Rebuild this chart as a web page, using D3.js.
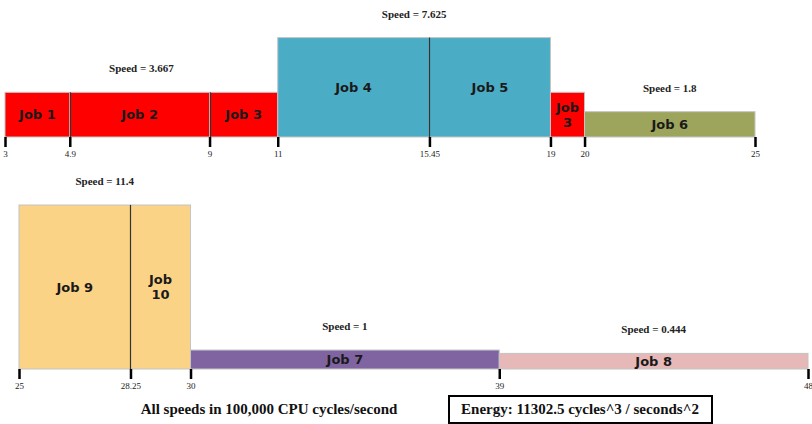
<!DOCTYPE html>
<html>
<head>
<meta charset="utf-8">
<script src="https://cdn.jsdelivr.net/npm/d3@7"></script>
<style>
  html, body { margin: 0; padding: 0; background: #fff; }
  svg { display: block; }
</style>
</head>
<body>
<div id="chart"></div>
<script>
// ── Datos ─────────────────────────────────────────────
const jobNames  = ['Job 1', 'Job 2', 'Job 3', 'Job 4', 'Job 5', 'Job 3', 'Job 6', 'Job 9', 'Job 10', 'Job 7', 'Job 8'];
const jobStarts = [3, 4.9, 9, 11, 15.45, 19, 20, 25, 28.25, 30, 39];
const jobEnds   = [4.9, 9, 11, 15.45, 19, 20, 25, 28.25, 30, 39, 48];
const jobSpeeds = [3.667, 3.667, 3.667, 7.625, 7.625, 3.667, 1.8, 11.4, 11.4, 1, 0.444];
const jobRows   = [0, 0, 0, 0, 0, 0, 0, 1, 1, 1, 1];

const speedValues = [3.667, 7.625, 1.8, 11.4, 1, 0.444];
const speedStarts = [3, 11, 20, 25, 30, 39];
const speedEnds   = [11, 19, 25, 30, 39, 48];
const speedRows   = [0, 0, 0, 1, 1, 1];

const rowTicks = [
    [3, 4.9, 9, 11, 15.45, 19, 20, 25],
    [25, 28.25, 30, 39, 48]
];
const rowDomains = [[3, 25], [25, 48]];

const footnote   = 'All speeds in 100,000 CPU cycles/second';
const energyText = 'Energy: 11302.5 cycles^3 / seconds^2';

// ── Layout ────────────────────────────────────────────
const W = 812, H = 424;
const rowRanges    = [[5, 755], [19, 808]];
const rowBaselines = [137, 369];

const color = d3.scaleOrdinal()
    .domain(speedValues)
    .range(['#ff0000', '#4bacc6', '#9da55c', '#fad387', '#8064a2', '#e6b9b8']);

const xScales = rowDomains.map((d, i) => d3.scaleLinear().domain(d).range(rowRanges[i]));
const hScale  = d3.scalePow().exponent(1.4).domain([0, d3.max(jobSpeeds)]).range([14, 164]);

const jobs = jobNames.map((name, i) => ({
    name, start: jobStarts[i], end: jobEnds[i], speed: jobSpeeds[i], row: jobRows[i]
}));

const svg = d3.select('#chart').append('svg')
    .attr('width', W).attr('height', H);

// ── Barras ────────────────────────────────────────────
const barG = svg.append('g');
barG.selectAll('rect')
    .data(jobs)
    .join('rect')
    .attr('x', d => xScales[d.row](d.start))
    .attr('y', d => rowBaselines[d.row] - hScale(d.speed))
    .attr('width', d => xScales[d.row](d.end) - xScales[d.row](d.start))
    .attr('height', d => hScale(d.speed))
    .attr('fill', d => color(d.speed))
    .attr('stroke', '#c4c4c4')
    .attr('stroke-width', 1);

// separadores entre trabajos de la misma velocidad
const seps = jobs.filter((d, i) => i > 0 && jobs[i - 1].row === d.row &&
    jobs[i - 1].speed === d.speed && jobs[i - 1].end === d.start);
barG.selectAll('line.sep')
    .data(seps)
    .join('line')
    .attr('class', 'sep')
    .attr('x1', d => Math.round(xScales[d.row](d.start)) + 0.5)
    .attr('x2', d => Math.round(xScales[d.row](d.start)) + 0.5)
    .attr('y1', d => rowBaselines[d.row] - hScale(d.speed))
    .attr('y2', d => rowBaselines[d.row])
    .attr('stroke', '#333')
    .attr('stroke-width', 1.2);

// ── Etiquetas de trabajos ─────────────────────────────
const labelG = svg.append('g')
    .style('font-family', '"DejaVu Sans", Verdana, sans-serif')
    .style('font-weight', 'bold')
    .style('font-size', '13px')
    .attr('fill', '#1a1a1a');

jobs.forEach(d => {
    const x0 = xScales[d.row](d.start), x1 = xScales[d.row](d.end);
    const cx = (x0 + x1) / 2;
    const cy = rowBaselines[d.row] - hScale(d.speed) / 2;
    const t = labelG.append('text')
        .attr('text-anchor', 'middle')
        .attr('x', cx).attr('y', cy)
        .attr('dy', '0.36em')
        .text(d.name);
    // si no cabe, partir en dos líneas
    if (t.node().getComputedTextLength() + 20 > x1 - x0) {
        const parts = d.name.split(' ');
        t.text(null).attr('dy', null);
        t.append('tspan').attr('x', cx).attr('y', cy).attr('dy', '-0.2em').text(parts[0]);
        t.append('tspan').attr('x', cx).attr('y', cy).attr('dy', '0.95em').text(parts[1]);
    }
});

// ── Etiquetas de velocidad ────────────────────────────
svg.append('g')
    .selectAll('text')
    .data(speedValues)
    .join('text')
    .attr('text-anchor', 'middle')
    .attr('x', (s, i) => xScales[speedRows[i]]((speedStarts[i] + speedEnds[i]) / 2))
    .attr('y', (s, i) => rowBaselines[speedRows[i]] - hScale(s) - 20)
    .style('font-family', '"Liberation Serif", "Times New Roman", serif')
    .style('font-weight', 'bold')
    .style('font-size', '11px')
    .attr('fill', '#222')
    .text(s => `Speed = ${s}`);

// ── Ejes ──────────────────────────────────────────────
rowTicks.forEach((ticks, r) => {
    const axis = d3.axisBottom(xScales[r])
        .tickValues(ticks)
        .tickFormat(d => d)
        .tickSize(10)
        .tickPadding(4);
    const g = svg.append('g')
        .attr('transform', `translate(0,${rowBaselines[r]})`)
        .call(axis);
    g.select('.domain').remove();
    g.selectAll('.tick line')
        .attr('stroke', '#000')
        .attr('stroke-width', 2.5);
    g.selectAll('.tick text')
        .style('font-family', '"Liberation Serif", "Times New Roman", serif')
        .style('font-size', '9px')
        .attr('fill', '#222');
});

// ── Pie ───────────────────────────────────────────────
svg.append('text')
    .attr('x', 269).attr('y', 414)
    .attr('text-anchor', 'middle')
    .style('font-family', '"Liberation Serif", "Times New Roman", serif')
    .style('font-weight', 'bold')
    .style('font-size', '15px')
    .attr('fill', '#111')
    .text(footnote);

svg.append('rect')
    .attr('x', 449).attr('y', 396)
    .attr('width', 263).attr('height', 27)
    .attr('fill', '#fff')
    .attr('stroke', '#000')
    .attr('stroke-width', 2);

svg.append('text')
    .attr('x', 580).attr('y', 414)
    .attr('text-anchor', 'middle')
    .style('font-family', '"Liberation Serif", "Times New Roman", serif')
    .style('font-weight', 'bold')
    .style('font-size', '15px')
    .attr('fill', '#111')
    .text(energyText);
</script>
</body>
</html>
